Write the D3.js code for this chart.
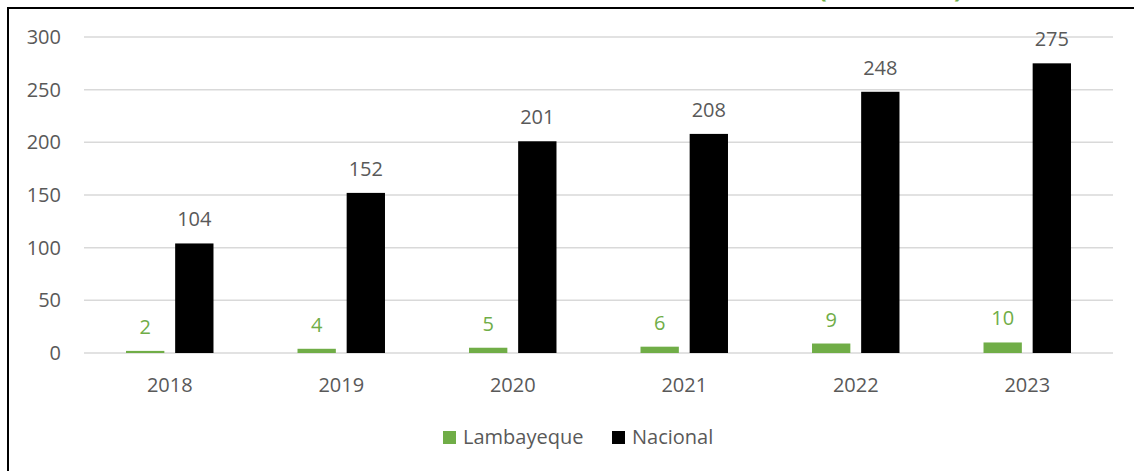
<!DOCTYPE html>
<html>
<head>
<meta charset="utf-8">
<script src="https://cdn.jsdelivr.net/npm/d3@7"></script>
<style>
  body { margin: 0; background: #fff; }
  svg { display: block; font-family: "Open Sans", sans-serif; }
</style>
</head>
<body>
<svg id="chart" width="1134" height="471"></svg>
<script>
// data
const years = ["2018", "2019", "2020", "2021", "2022", "2023"];
const lambayeque = [2, 4, 5, 6, 9, 10];
const nacional = [104, 152, 201, 208, 248, 275];
const seriesNames = ["Lambayeque", "Nacional"];
const yTicks = [0, 50, 100, 150, 200, 250, 300];

const colors = { Lambayeque: "#70AD47", Nacional: "#000000" };
const textGrey = "#595959";

const svg = d3.select("#chart");

// clipped title sitting above the frame (only its bottom shows)
svg.append("text")
  .attr("x", 818)
  .attr("y", -3)
  .attr("fill", colors.Lambayeque)
  .attr("font-weight", "bold")
  .attr("font-size", 26)
  .text("(2018-2023)");

// chart frame, cut at right and bottom
svg.append("rect")
  .attr("x", 8)
  .attr("y", 8)
  .attr("width", 1140)
  .attr("height", 480)
  .attr("fill", "none")
  .attr("stroke", "#000")
  .attr("stroke-width", 2);

const x0 = d3.scaleBand().domain(years).range([84, 1113]);
const x1 = d3.scaleBand().domain(seriesNames)
  .range([x0.bandwidth() * 0.245, x0.bandwidth() * 0.755])
  .paddingInner(0.22);
const y = d3.scaleLinear().domain([0, 300]).range([353, 37]);

// gridlines
svg.append("g").selectAll("line")
  .data(yTicks)
  .join("line")
  .attr("x1", 84)
  .attr("x2", 1113)
  .attr("y1", d => y(d))
  .attr("y2", d => y(d))
  .attr("stroke", "#d9d9d9")
  .attr("stroke-width", 1.5);

// y tick labels
svg.append("g").selectAll("text")
  .data(yTicks)
  .join("text")
  .attr("x", 61)
  .attr("y", d => y(d) + 7)
  .attr("text-anchor", "end")
  .attr("font-size", 20)
  .attr("fill", textGrey)
  .text(d => d);

const rows = years.map((yr, i) => ({
  year: yr,
  values: [
    { name: "Lambayeque", value: lambayeque[i] },
    { name: "Nacional", value: nacional[i] }
  ]
}));

const groups = svg.append("g").selectAll("g")
  .data(rows)
  .join("g")
  .attr("transform", d => `translate(${x0(d.year)},0)`);

groups.selectAll("rect")
  .data(d => d.values)
  .join("rect")
  .attr("x", d => x1(d.name))
  .attr("width", x1.bandwidth())
  .attr("y", d => y(d.value))
  .attr("height", d => y(0) - y(d.value))
  .attr("fill", d => colors[d.name]);

// value labels
groups.selectAll("text")
  .data(d => d.values)
  .join("text")
  .attr("x", d => x1(d.name) + x1.bandwidth() / 2)
  .attr("y", d => y(d.value) - 17)
  .attr("text-anchor", "middle")
  .attr("font-size", 20)
  .attr("fill", d => d.name === "Lambayeque" ? colors.Lambayeque : textGrey)
  .text(d => d.value);

// year labels
svg.append("g").selectAll("text")
  .data(years)
  .join("text")
  .attr("x", d => x0(d) + x0.bandwidth() / 2)
  .attr("y", 392)
  .attr("text-anchor", "middle")
  .attr("font-size", 20)
  .attr("fill", textGrey)
  .text(d => d);

// legend
const legendX = [443, 612];
const legend = svg.append("g").selectAll("g")
  .data(seriesNames)
  .join("g")
  .attr("transform", (d, i) => `translate(${legendX[i]},431)`);

legend.append("rect")
  .attr("width", 13)
  .attr("height", 13)
  .attr("fill", d => colors[d]);

legend.append("text")
  .attr("x", 20)
  .attr("y", 13)
  .attr("font-size", 20)
  .attr("fill", textGrey)
  .text(d => d);
</script>
</body>
</html>
